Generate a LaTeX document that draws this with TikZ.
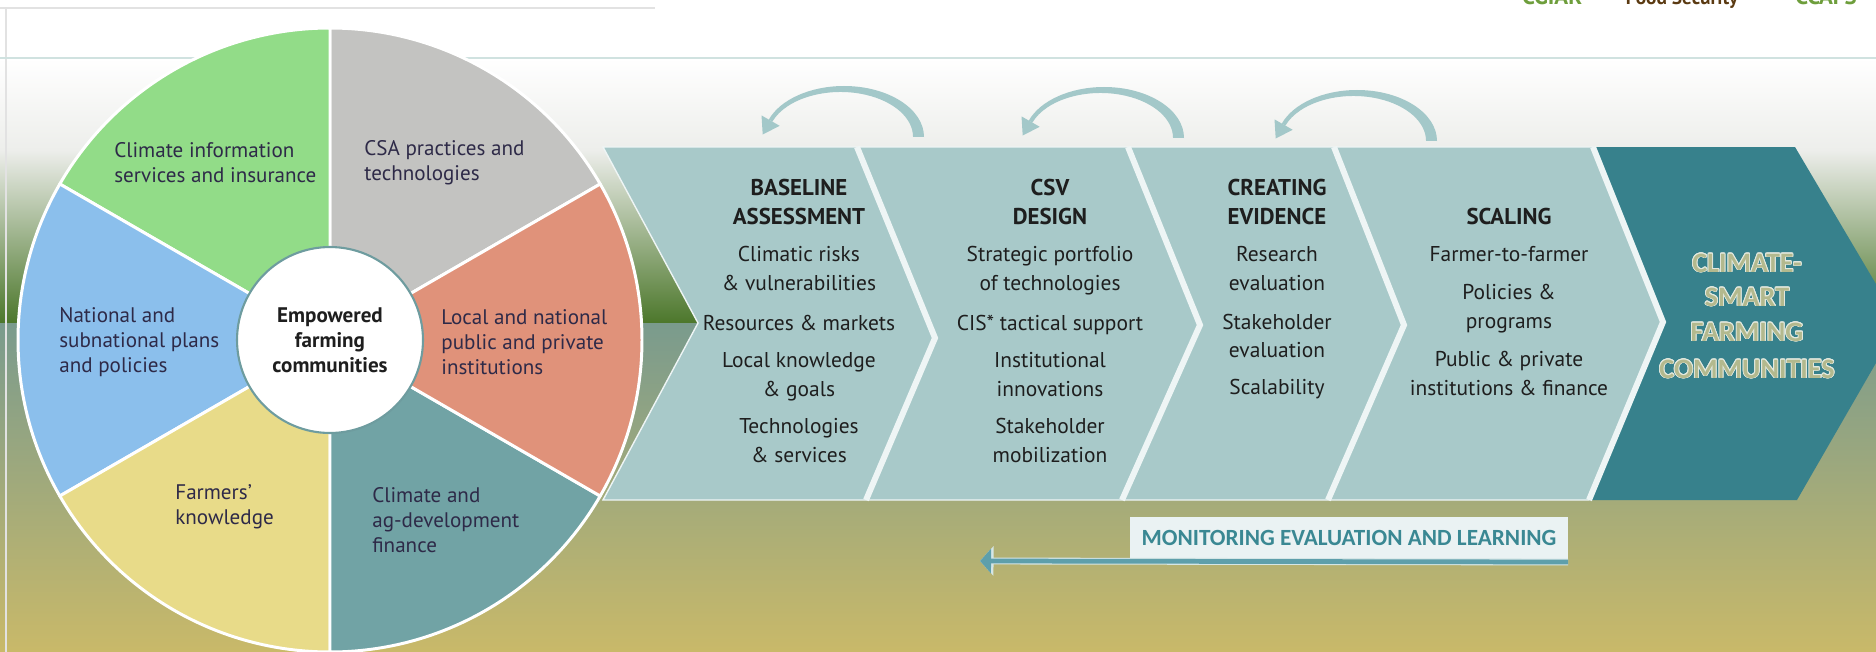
\documentclass[tikz,border=0pt]{standalone}
\usepackage{fontspec}
\setmainfont{PT Sans}
\newfontfamily\calibri{Carlito}
\usepackage{contour}
\contourlength{0.45pt}
\usetikzlibrary{arrows.meta,calc}

\definecolor{cisgreen}{HTML}{92DC88}
\definecolor{csagray}{HTML}{C3C3C1}
\definecolor{instsalmon}{HTML}{E0927A}
\definecolor{finteal}{HTML}{71A3A5}
\definecolor{farmyellow}{HTML}{E8DB89}
\definecolor{planblue}{HTML}{8BBFEC}
\definecolor{circink}{HTML}{2E2A48}
\definecolor{hubedge}{HTML}{6E9C9F}
\definecolor{ink}{HTML}{1E1E1E}
\definecolor{bandteal}{HTML}{A8C9C9}
\definecolor{goalteal}{HTML}{37818C}
\definecolor{goalletter}{HTML}{B3B98E}
\definecolor{goaledge}{HTML}{E4EAE0}
\definecolor{divwhite}{HTML}{EEF5F5}
\definecolor{loopteal}{HTML}{A3C8C9}
\definecolor{melteal}{HTML}{3A8893}
\definecolor{melline}{HTML}{5E9FAB}
\definecolor{meledge}{HTML}{D5E6E6}
\definecolor{melfill}{HTML}{EAF2F3}
\definecolor{sky}{HTML}{EDEEEB}
\definecolor{haze}{HTML}{B2BEA2}
\definecolor{horizon}{HTML}{4C772B}
\definecolor{field}{HTML}{7A9B8D}
\definecolor{fieldmid}{HTML}{A8AD82}
\definecolor{wheat}{HTML}{C9B969}
\definecolor{rulegray}{HTML}{E2E2E2}
\definecolor{ruleteal}{HTML}{D0E2E0}
\definecolor{cgiargreen}{HTML}{6E9E3C}
\definecolor{fsbrown}{HTML}{5B3A12}

% feedback loop over a stage: #1 is the coordinate at the foot of the loop
\newcommand{\loopback}[1]{%
  \fill[loopteal] ($(#1)+(80,0)$) arc[start angle=0, end angle=160, x radius=80, y radius=51]
    -- ($(#1)+(-71.6,15.4)$) arc[start angle=160, end angle=0, x radius=72.5, y radius=45] -- cycle;
  \fill[loopteal] ($(#1)+(-64.3,11.2)$) -- ($(#1)+(-81.3,2.5)$) -- ($(#1)+(-82.5,21.6)$) -- cycle;
}

\begin{document}
\begin{tikzpicture}[x=0.02cm, y=0.02cm,
  slice/.style={draw=white, line width=1.7pt, line join=round},
  sectortext/.style={align=left, anchor=west, inner sep=0pt, text=circink, font=\fontsize{12}{14.2}\selectfont},
  stagehead/.style={anchor=base, inner sep=0pt, text=ink, font=\bfseries\fontsize{13}{15}\selectfont},
  stageitem/.style={anchor=base, inner sep=0pt, text=ink, font=\fontsize{12.2}{15}\selectfont},
  goaltext/.style={anchor=base, inner sep=0pt, text=goalletter, font=\calibri\bfseries\fontsize{16}{19}\selectfont},
  divider/.style={draw=divwhite, line width=3.4pt, line join=miter},
  logotext/.style={anchor=base, inner sep=0pt, font=\bfseries\fontsize{13}{15}\selectfont}]
\useasboundingbox (0,0) rectangle (1876,-652);

% backdrop: white header, sky, horizon and field
\fill[white] (0,0) rectangle (1876,-652);
\shade[top color=white, bottom color=sky] (0,-58) rectangle (1876,-150);
\shade[top color=sky, middle color=haze, bottom color=horizon] (0,-150) rectangle (1876,-323);
\shade[top color=field, middle color=fieldmid, bottom color=wheat] (0,-323) rectangle (1876,-652);
\draw[rulegray, line width=1pt] (0,-8) -- (655,-8);
\draw[rulegray, line width=0.6pt] (6,-8) -- (6,-652);
\draw[ruleteal, line width=1pt] (0,-58) -- (1876,-58);

% logos at the top edge
\begin{scope}
\clip (0,0) rectangle (1876,-652);
\node[logotext, text=cgiargreen] (cgiar) at (1552,-5) {CGIAR};
\node[logotext, text=fsbrown, font=\bfseries\fontsize{11}{13}\selectfont] (fs) at (1682,-5) {Food Security};
\node[logotext, text=cgiargreen] (ccafs) at (1826,-5) {CCAFS};
\end{scope}

% wheel of six enabling areas
\coordinate (hub) at (330,-340);
\foreach \a/\col in {30/csagray, 90/cisgreen, 150/planblue, 210/farmyellow, 270/finteal, 330/instsalmon}
  \filldraw[slice, fill=\col] (hub) -- ++(\a:312) arc[start angle=\a, end angle=\a+60, radius=312] -- cycle;
\node[circle, fill=white, draw=hubedge, line width=1.2pt, minimum size=3.72cm, align=center,
      text=ink, font=\bfseries\fontsize{12}{14.2}\selectfont] (core) at (hub) {Empowered\\farming\\communities};

\node[sectortext] (cis) at (114,-163) {Climate information\\services and insurance};
\node[sectortext] (csa) at (364,-163) {CSA practices and\\technologies};
\node[sectortext] (inst) at (441,-342) {Local and national\\public and private\\institutions};
\node[sectortext] (plans) at (59,-342) {National and\\subnational plans\\and policies};
\node[sectortext] (farmers) at (175,-507) {Farmers'\\knowledge};
\node[sectortext] (finance) at (372,-520) {Climate and\\ag-development\\finance};

% chevron band
\coordinate (b1) at (603,-147);
\coordinate (b2) at (1593,-147);
\coordinate (b3) at (1663,-322);
\coordinate (b4) at (1589,-500);
\coordinate (b5) at (603,-500);
\coordinate (b6) at (698,-323);
\filldraw[fill=bandteal, draw=divwhite, line width=0.8pt] (b1) -- (b2) -- (b3) -- (b4) -- (b5) -- (b6) -- cycle;
\coordinate (g1) at (1795,-147);
\coordinate (g2) at (1899,-323);
\coordinate (g3) at (1797,-500);
\fill[goalteal] (b2) -- (g1) -- (g2) -- (g3) -- (b4) -- (b3) -- cycle;

% white dividers between the stages
\draw[divider] (857,-147) -- (935,-338) -- (866,-500);
\draw[divider] (1128,-147) -- (1200,-325) -- (1122,-500);
\draw[divider] (1334,-147) -- (1404,-325) -- (1328,-500);
\draw[divider] (b2) -- (b3) -- (b4);

% feedback loops
\coordinate (loop1) at (844,-137);
\coordinate (loop2) at (1104,-138);
\coordinate (loop3) at (1357,-141);
\loopback{loop1}
\loopback{loop2}
\loopback{loop3}

% stage texts
\node[stagehead] (assess-h1) at (799,-195) {BASELINE};
\node[stagehead] (assess-h2) at (799,-224) {ASSESSMENT};
\foreach \yy/\txt [count=\i] in {261/Climatic risks, 290/\& vulnerabilities, 330/Resources \& markets,
    367/Local knowledge, 396/\& goals, 433/Technologies, 462/\& services}
  \node[stageitem] (assess-\i) at (799,-\yy) {\txt};

\node[stagehead] (design-h1) at (1050,-195) {CSV};
\node[stagehead] (design-h2) at (1050,-224) {DESIGN};
\foreach \yy/\txt [count=\i] in {261/Strategic portfolio, 290/of technologies, 330/CIS* tactical support,
    367/Institutional, 396/innovations, 433/Stakeholder, 462/mobilization}
  \node[stageitem] (design-\i) at (1050,-\yy) {\txt};

\node[stagehead] (evidence-h1) at (1277,-195) {CREATING};
\node[stagehead] (evidence-h2) at (1277,-224) {EVIDENCE};
\foreach \yy/\txt [count=\i] in {261/Research, 290/evaluation, 329/Stakeholder, 357/evaluation, 394/Scalability}
  \node[stageitem] (evidence-\i) at (1277,-\yy) {\txt};

\node[stagehead] (scaling-h1) at (1509,-224) {SCALING};
\foreach \yy/\txt [count=\i] in {261/Farmer-to-farmer, 299/Policies \&, 328/programs,
    366/Public \& private, 395/institutions \& finance}
  \node[stageitem] (scaling-\i) at (1509,-\yy) {\txt};

\foreach \yy/\txt [count=\i] in {272/CLIMATE-, 306/SMART, 341/FARMING, 378/COMMUNITIES}
  \node[goaltext] (goal-\i) at (1747,-\yy) {\contour{goaledge}{\txt}};

% monitoring, evaluation and learning arrow
\node[fill=melfill, minimum width=8.76cm, minimum height=0.84cm, inner sep=0pt, text=melteal,
      font=\calibri\bfseries\fontsize{13.2}{15}\selectfont] (mel) at (1349,-538) {MONITORING EVALUATION AND LEARNING};
\coordinate (melstart) at (1568,-562);
\coordinate (melend) at (980,-561);
\draw[meledge, line width=3.9pt, -{Triangle[length=0.27cm, width=0.58cm]}] (melstart) -- (melend);
\draw[melline, line width=2.7pt, -{Triangle[length=0.22cm, width=0.48cm]}] (melstart) -- (melend);
\end{tikzpicture}
\end{document}
